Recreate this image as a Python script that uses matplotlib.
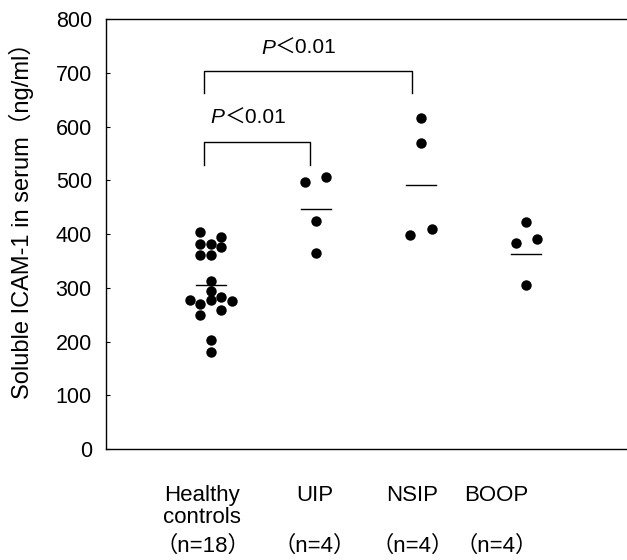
import matplotlib.pyplot as plt
import numpy as np

plt.rcParams['font.family'] = ['Liberation Sans', 'Noto Sans CJK JP']

# values (ng/ml)
groups = ['Healthy\ncontrols', 'UIP', 'NSIP', 'BOOP']
counts = ['（n=18）', '（n=4）', '（n=4）', '（n=4）']

healthy = [403, 395, 381, 381, 376, 361, 361, 312, 294, 277, 270, 278, 283, 275, 249, 259, 203, 180]
healthy_col = [-1, 1, -1, 0, 1, -1, 0, 0, 0, -2, -1, 0, 1, 2, -1, 1, 0, 0]
uip = [496, 507, 425, 365]
uip_col = [-0.5, 0.5, 0, 0]
nsip = [616, 569, 399, 409]
nsip_col = [0, 0, -1, 1]
boop = [423, 384, 390, 305]
boop_col = [0, -1, 1, 0]
means = [305, 447, 491, 363]

series = [(healthy, healthy_col), (uip, uip_col), (nsip, nsip_col), (boop, boop_col)]

fig = plt.figure(figsize=(6.27, 5.6), dpi=100)
ax = fig.add_axes([0.1686, 0.198, 0.8314, 0.768])

dot_step = 0.1  # horizontal spacing between stacked dots
for i, (vals, cols) in enumerate(series):
    xc = i + 1
    xs = xc + np.array(cols) * dot_step * (2 if i == 1 else 1)
    ax.plot(xs, vals, 'o', color='black', markersize=7.5, markeredgewidth=0)
    ax.plot([xc - 0.14, xc + 0.14], [means[i], means[i]], color='black', lw=1)

# significance brackets
ax.plot([0.933, 0.933, 1.943, 1.943], [528, 572, 572, 528], color='black', lw=1)
ax.plot([0.933, 0.933, 2.914, 2.914], [663, 704, 704, 663], color='black', lw=1)


def p_label(x, y):
    ax.text(x, y, 'P', ha='right', va='center', fontsize=15, style='italic')
    ax.text(x, y, '＜0.01', ha='left', va='center', fontsize=15)


p_label(1.13, 616)
p_label(1.61, 746)

ax.set_xlim(0, 4.96)
ax.set_ylim(0, 800)
ax.set_yticks(np.arange(0, 801, 100))
ax.tick_params(axis='y', direction='in', length=3, width=0.8, labelsize=15.5, pad=10)
ax.set_xticks([])
ax.spines['right'].set_visible(False)
for s in ['left', 'top', 'bottom']:
    ax.spines[s].set_linewidth(1)

ax.set_ylabel('Soluble ICAM-1 in serum（ng/ml）', fontsize=17)
ax.yaxis.set_label_coords(-0.137, 0.545)

# category labels under the axis
label_x = [0.92, 1.99, 2.92, 3.72]
tr = ax.get_xaxis_transform()
for lx, g, c in zip(label_x, groups, counts):
    lines = g.split('\n')
    ax.text(lx, -0.107, lines[0], transform=tr, ha='center', va='center', fontsize=16)
    if len(lines) > 1:
        ax.text(lx, -0.160, lines[1], transform=tr, ha='center', va='center', fontsize=16)
    ax.text(lx, -0.225, c, transform=tr, ha='center', va='center', fontsize=16)

fig.savefig('out.png', dpi=100)
